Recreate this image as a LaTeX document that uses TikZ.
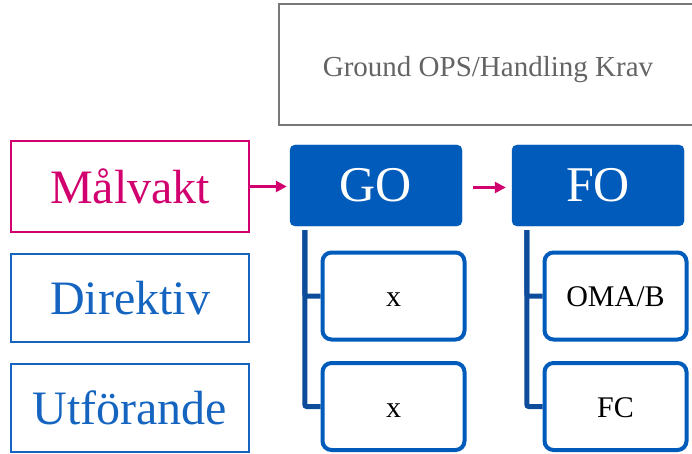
\documentclass[tikz,border=0pt]{standalone}
\usepackage{fontspec}
\setmainfont{Liberation Serif}
\usetikzlibrary{arrows.meta}
\definecolor{pinkc}{RGB}{210,0,110}
\definecolor{bluefill}{RGB}{0,91,187}
\definecolor{blueline}{RGB}{21,101,192}
\definecolor{treeblue}{RGB}{12,76,154}
\definecolor{greyline}{RGB}{120,120,120}
\definecolor{greytext}{RGB}{100,100,100}
\tikzset{
  labelbox/.style={draw, line width=1.8pt, minimum width=238pt, inner sep=0pt, font=\fontsize{48}{52}\selectfont},
  headbox/.style={fill=bluefill, draw=bluefill, rounded corners=5pt, minimum width=172pt, minimum height=81pt, inner sep=0pt, text=white, font=\fontsize{50}{54}\selectfont},
  childbox/.style={draw=bluefill, line width=4pt, fill=white, rounded corners=9pt, minimum width=142pt, minimum height=87pt, inner sep=0pt, text height=21pt, text depth=0pt, font=\fontsize{30}{34}\selectfont},
  tree/.style={draw=treeblue, line width=5pt, rounded corners=2pt},
  parrow/.style={draw=pinkc, line width=2.5pt, -{Triangle[length=11pt,width=11pt]}}
}
\begin{document}
\begin{tikzpicture}[x=1pt,y=-1pt]
\useasboundingbox (0,0) rectangle (692,454);
\begin{scope}
\clip (0,0) rectangle (692,454);
\node[draw=greyline, line width=1.8pt, minimum width=418pt, minimum height=121pt] (ground) at (488,64.5) {};
\node[text=greytext, inner sep=0pt, text height=19pt, text depth=0pt, font=\fontsize{29}{33}\selectfont] (groundtxt) at (488,67.5) {Ground OPS/Handling Krav};
\node[labelbox, draw=pinkc, text=pinkc, minimum height=91pt] (malvakt) at (130,186.5) {Målvakt};
\node[labelbox, draw=blueline, text=blueline, minimum height=88pt] (direktiv) at (130,298) {Direktiv};
\node[labelbox, draw=blueline, text=blueline, minimum height=88pt] (utforande) at (130,408) {Utförande};
\node[headbox] (GO) at (376,185.5) {GO};
\node[headbox] (FO) at (598,185.5) {FO};
\node[childbox] (g1) at (393.5,296) {x};
\node[childbox] (g2) at (393.5,406.5) {x};
\node[childbox] (f1) at (615.5,296) {OMA/B};
\node[childbox] (f2) at (615.5,406.5) {FC};
\draw[tree] ([xshift=15pt,yshift=-4pt]GO.south west) |- (g1.west);
\draw[tree] ([xshift=15pt,yshift=-4pt]GO.south west) |- (g2.west);
\draw[tree] ([xshift=15pt,yshift=-4pt]FO.south west) |- (f1.west);
\draw[tree] ([xshift=15pt,yshift=-4pt]FO.south west) |- (f2.west);
\draw[parrow, shorten >=3pt] (malvakt.east) -- (malvakt.east -| GO.west);
\draw[parrow, shorten <=11pt, shorten >=6pt] ([yshift=-2pt]GO.east) -- ([yshift=-2pt]GO.east -| FO.west);
\end{scope}
\end{tikzpicture}
\end{document}
